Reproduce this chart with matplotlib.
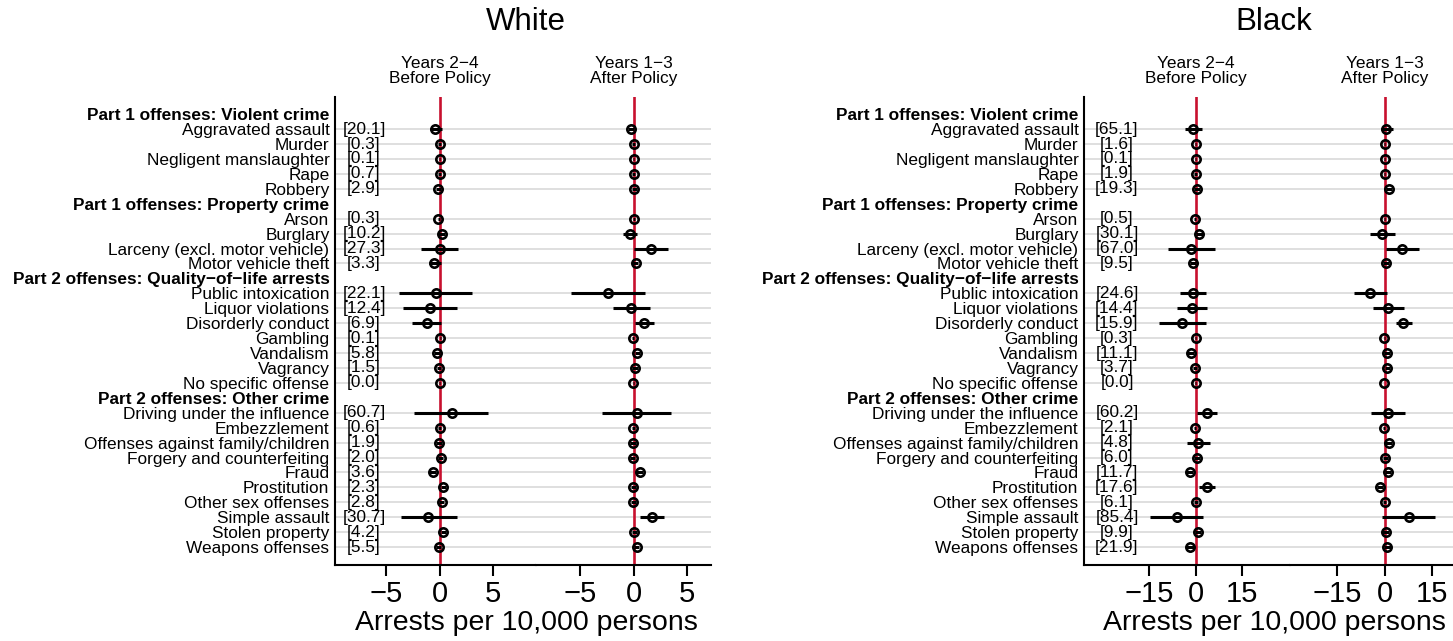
import matplotlib
matplotlib.use("Agg")
import matplotlib.pyplot as plt
import numpy as np

plt.rcParams['font.family'] = ['Liberation Sans', 'DejaVu Sans']

# ---------------- data ----------------
groups = [
    "Part 1 offenses: Violent crime",
    "Part 1 offenses: Property crime",
    "Part 2 offenses: Quality\u2212of\u2212life arrests",
    "Part 2 offenses: Other crime",
]
group_offenses = [
    ["Aggravated assault", "Murder", "Negligent manslaughter", "Rape", "Robbery"],
    ["Arson", "Burglary", "Larceny (excl. motor vehicle)", "Motor vehicle theft"],
    ["Public intoxication", "Liquor violations", "Disorderly conduct", "Gambling",
     "Vandalism", "Vagrancy", "No specific offense"],
    ["Driving under the influence", "Embezzlement", "Offenses against family/children",
     "Forgery and counterfeiting", "Fraud", "Prostitution", "Other sex offenses",
     "Simple assault", "Stolen property", "Weapons offenses"],
]

white_base = [20.1, 0.3, 0.1, 0.7, 2.9, 0.3, 10.2, 27.3, 3.3, 22.1, 12.4, 6.9, 0.1,
              5.8, 1.5, 0.0, 60.7, 0.6, 1.9, 2.0, 3.6, 2.3, 2.8, 30.7, 4.2, 5.5]
black_base = [65.1, 1.6, 0.1, 1.9, 19.3, 0.5, 30.1, 67.0, 9.5, 24.6, 14.4, 15.9, 0.3,
              11.1, 3.7, 0.0, 60.2, 2.1, 4.8, 6.0, 11.7, 17.6, 6.1, 85.4, 9.9, 21.9]

white_before_est = [-0.44, 0.0, 0.0, 0.0, -0.1, -0.1, 0.2, 0.03, -0.5, -0.37, -0.9, -1.2, 0.09,
                    -0.25, -0.06, 0.0, 1.15, 0.0, -0.06, 0.1, -0.62, 0.37, 0.19, -1.09, 0.34, -0.09]
white_before_lo = [-0.93, -0.1, -0.05, -0.1, -0.3, -0.15, -0.1, -1.7, -1.0, -3.8, -3.43, -2.55, 0.0,
                   -0.5, -0.25, -0.02, -2.34, -0.1, -0.3, -0.1, -0.95, 0.1, -0.05, -3.64, 0.1, -0.35]
white_before_hi = [0.25, 0.1, 0.05, 0.1, 0.1, 0.05, 0.5, 1.7, 0.15, 3.05, 1.65, 0.1, 0.18,
                   0.0, 0.13, 0.02, 4.55, 0.1, 0.2, 0.3, -0.3, 0.6, 0.45, 1.59, 0.6, 0.15]

white_after_est = [-0.28, 0.0, 0.0, 0.0, 0.06, 0.06, -0.34, 1.59, 0.19, -2.4, -0.22, 1.0, -0.03,
                   0.34, 0.16, -0.03, 0.28, -0.03, -0.03, -0.09, 0.56, -0.03, -0.03, 1.75, 0.06, 0.28]
white_after_lo = [-0.55, -0.1, -0.05, -0.1, -0.15, -0.05, -1.0, 0.09, -0.1, -5.86, -1.9, 0.16, -0.1,
                  0.1, -0.1, -0.05, -2.96, -0.15, -0.3, -0.3, 0.25, -0.25, -0.25, 0.62, -0.15, 0.0]
white_after_hi = [0.0, 0.1, 0.05, 0.1, 0.3, 0.15, 0.37, 3.18, 0.45, 1.12, 1.5, 1.96, 0.05,
                  0.6, 0.4, 0.0, 3.46, 0.1, 0.25, 0.1, 0.85, 0.2, 0.2, 2.87, 0.3, 0.55]

black_before_est = [-0.75, 0.0, 0.0, 0.0, 0.54, -0.2, 1.18, -1.4, -0.86, -0.96, -1.18, -4.5, 0.1,
                    -1.5, -0.1, 0.0, 3.86, -0.1, 0.96, 0.43, -1.93, 3.64, 0.1, -6.1, 0.86, -1.8]
black_before_lo = [-3.4, -0.3, -0.1, -0.4, -0.5, -0.4, 0.0, -9.0, -1.9, -5.0, -5.9, -11.7, -0.1,
                   -2.6, -0.8, -0.05, 0.64, -0.5, -2.9, -0.5, -3.0, 1.07, -0.6, -14.7, -0.2, -3.0]
black_before_hi = [2.25, 0.3, 0.1, 0.4, 1.5, 0.0, 2.3, 6.4, 0.2, 3.3, 3.86, 3.3, 0.3,
                   -0.4, 0.6, 0.05, 7.07, 0.3, 4.6, 1.3, -0.9, 6.4, 0.8, 2.46, 1.9, -0.6]

black_after_est = [0.54, 0.0, 0.0, 0.0, 1.39, 0.0, -0.75, 5.46, 0.54, -4.7, 1.07, 5.9, -0.1,
                   0.75, 0.86, -0.2, 0.96, -0.2, 1.39, 0.2, 1.18, -1.5, 0.0, 7.7, 0.32, 0.86]
black_after_lo = [-0.96, -0.2, -0.1, -0.3, 0.4, -0.2, -4.6, 0.32, -0.4, -9.75, -3.75, 3.75, -0.3,
                  -0.3, 0.0, -0.25, -4.2, -0.6, 0.3, -0.6, 0.2, -2.5, -0.6, -0.75, -0.7, -0.2]
black_after_hi = [2.68, 0.2, 0.1, 0.3, 2.4, 0.2, 3.2, 10.8, 1.5, 0.75, 6.2, 8.7, 0.1,
                  1.8, 1.7, -0.15, 6.4, 0.2, 2.5, 1.0, 2.2, -0.5, 0.6, 16.1, 1.3, 1.9]

# ---------------- layout helpers ----------------
labels, is_header, data_rows = [], [], []
r = 0
for g, offs in zip(groups, group_offenses):
    labels.append(g); is_header.append(True); r += 1
    for o in offs:
        labels.append(o); is_header.append(False); data_rows.append(r); r += 1
n_rows = len(labels)
data_rows = np.array(data_rows)

W, H = 1453, 641
fig = plt.figure(figsize=(W / 100, H / 100), dpi=100)

RED = "#C8102E"
GRID = "#d6d6d6"
FS = 12.4
TICKFS = 21

ax_bottom = 1 - 565 / H
ax_height = (565 - 97) / H
ylim = (30.2, -1.15)


def make_axes(x0, x1, xlim):
    ax = fig.add_axes([x0 / W, ax_bottom, (x1 - x0) / W, ax_height])
    ax.set_xlim(*xlim)
    ax.set_ylim(*ylim)
    for s in ["top", "right"]:
        ax.spines[s].set_visible(False)
    ax.spines["bottom"].set_linewidth(1.5)
    ax.spines["left"].set_linewidth(1.5)
    ax.tick_params(axis="x", length=8, width=1.5, labelsize=TICKFS, pad=3)
    return ax


def draw_sub(ax, est, lo, hi, xticks, header):
    for y in data_rows:
        ax.axhline(y, color=GRID, lw=1.1, zorder=1)
    ax.axvline(0, color=RED, lw=1.9, zorder=2)
    ax.hlines(data_rows, lo, hi, color="black", lw=2.2, zorder=3)
    ax.plot(est, data_rows, linestyle="none", marker="o", ms=6.0, mfc="none",
            mec="black", mew=1.9, zorder=4)
    ax.set_xticks(xticks)
    ax.set_xticklabels(["\u2212%g" % abs(t) if t < 0 else "%g" % t for t in xticks])
    ax.annotate(header, xy=(0, 1), xycoords=("data", "axes fraction"),
                xytext=(0, 19), textcoords="offset points", ha="center", va="center",
                fontsize=FS, linespacing=1.0)


panels = [
    dict(title="White", base=white_base, x0=335, xs=536, x1=711,
         xl_b=(-9.77, 9.02), xl_a=(-9.11, 7.24), ticks=[-5, 0, 5],
         b=(white_before_est, white_before_lo, white_before_hi),
         a=(white_after_est, white_after_lo, white_after_hi), boff=29, center=526),
    dict(title="Black", base=black_base, x0=1084, xs=1290, x1=1453,
         xl_b=(-35.97, 30.48), xl_a=(-29.84, 21.63), ticks=[-15, 0, 15],
         b=(black_before_est, black_before_lo, black_before_hi),
         a=(black_after_est, black_after_lo, black_after_hi), boff=33, center=1274),
]

for p in panels:
    axb = make_axes(p["x0"], p["xs"], p["xl_b"])
    axa = make_axes(p["xs"], p["x1"], p["xl_a"])
    axa.spines["left"].set_visible(False)
    axa.set_yticks([])
    draw_sub(axb, *p["b"], p["ticks"], "Years 2\u22124\nBefore Policy")
    draw_sub(axa, *p["a"], p["ticks"], "Years 1\u22123\nAfter Policy")

    axb.set_yticks(range(n_rows))
    axb.set_yticklabels(labels, fontsize=FS)
    axb.tick_params(axis="y", length=0, pad=4)
    for t, h in zip(axb.get_yticklabels(), is_header):
        if h:
            t.set_fontweight("bold")

    for y, v in zip(data_rows, p["base"]):
        axb.annotate("[%.1f]" % v, xy=(0, y), xycoords=("axes fraction", "data"),
                     xytext=(p["boff"] * 0.72, 0), textcoords="offset points",
                     ha="center", va="center", fontsize=FS, zorder=5)

    fig.text(p["center"] / W, 1 - 22 / H, p["title"], ha="center", va="center", fontsize=22.5)
    fig.text(p["center"] / W, 1 - 623 / H, "Arrests per 10,000 persons",
             ha="center", va="center", fontsize=20.5)

fig.savefig("out.png", dpi=100)
